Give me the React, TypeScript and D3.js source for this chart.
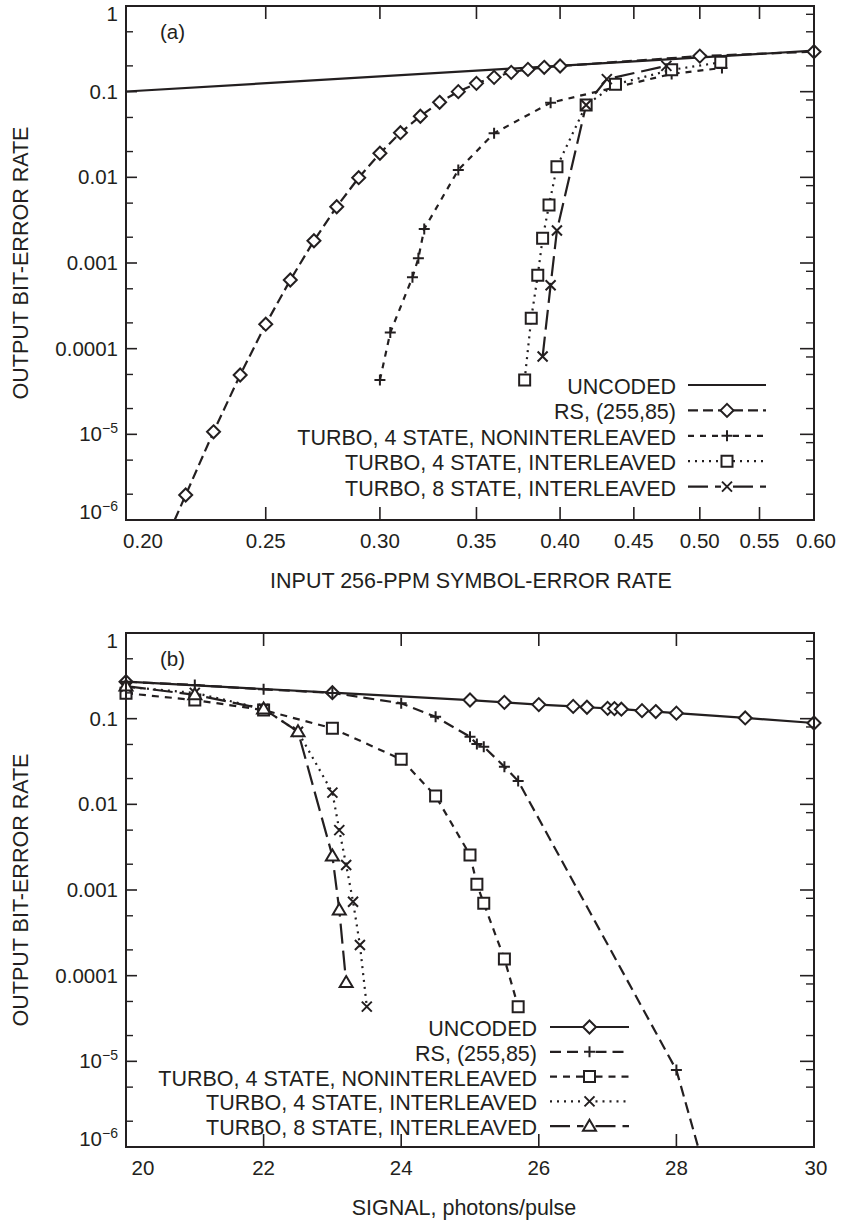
import React from 'react'
import * as d3 from 'd3'

const W = 841
const H = 1223
const INK = '#231f20'
const FONT = '"Liberation Sans", Arial, Helvetica, sans-serif'

// ---------- panel (a): input symbol-error rate ----------
const serTicks = [0.2, 0.25, 0.3, 0.35, 0.4, 0.45, 0.5, 0.55, 0.6]

const uncodedSerA = [0.2, 0.6]
const uncodedBerA = [0.1004, 0.3012]

const rsSerA = [0.21, 0.22, 0.23, 0.24, 0.25, 0.26, 0.27, 0.28, 0.29, 0.3, 0.31, 0.32, 0.33, 0.34, 0.35, 0.36, 0.37, 0.38, 0.39, 0.4, 0.5, 0.6]
const rsBerA = [3.3e-7, 1.96e-6, 1.07e-5, 4.93e-5, 1.93e-4, 6.33e-4, 1.82e-3, 4.54e-3, 9.9e-3, 0.0191, 0.0332, 0.0517, 0.0751, 0.1, 0.125, 0.147, 0.168, 0.182, 0.1925, 0.1995, 0.26, 0.293]

const t4nSerA = [0.3, 0.305, 0.316, 0.319, 0.322, 0.34, 0.36, 0.394, 0.478, 0.518]
const t4nBerA = [4.3e-5, 1.54e-4, 6.8e-4, 1.14e-3, 2.5e-3, 0.0122, 0.0327, 0.0743, 0.161, 0.189]

const t4iSerA = [0.378, 0.382, 0.386, 0.389, 0.393, 0.398, 0.417, 0.437, 0.478, 0.517]
const t4iBerA = [4.3e-5, 2.26e-4, 7.2e-4, 1.94e-3, 4.75e-3, 0.0133, 0.07, 0.122, 0.18, 0.22]

const t8iSerA = [0.389, 0.394, 0.398, 0.417, 0.431, 0.474]
const t8iBerA = [8.1e-5, 5.5e-4, 2.4e-3, 0.07, 0.14, 0.2]

// ---------- panel (b): signal, photons/pulse ----------
const signalTicks = [20, 22, 24, 26, 28, 30]

const uncodedSigB = [20, 23, 25, 25.5, 26, 26.5, 26.7, 27, 27.1, 27.2, 27.5, 27.7, 28, 29, 30]
const uncodedBerB = [0.27, 0.201, 0.165, 0.155, 0.146, 0.139, 0.136, 0.132, 0.131, 0.129, 0.124, 0.121, 0.116, 0.102, 0.089]

const rsSigB = [20, 21, 22, 23, 24, 24.5, 25, 25.1, 25.2, 25.5, 25.7, 28, 28.5]
const rsBerB = [0.27, 0.247, 0.22, 0.2, 0.151, 0.105, 0.0616, 0.0506, 0.0471, 0.0275, 0.0187, 7.9e-6, 3e-7]

const t4nSigB = [20, 21, 22, 23, 24, 24.5, 25, 25.1, 25.2, 25.5, 25.7]
const t4nBerB = [0.198, 0.165, 0.126, 0.0772, 0.0335, 0.0125, 2.56e-3, 1.17e-3, 7.0e-4, 1.57e-4, 4.35e-5]

const t4iSigB = [20, 21, 22, 22.5, 23, 23.1, 23.2, 23.3, 23.4, 23.5]
const t4iBerB = [0.235, 0.2, 0.13, 0.0705, 0.0137, 5.0e-3, 1.96e-3, 7.3e-4, 2.28e-4, 4.35e-5]

const t8iSigB = [20, 21, 22, 22.5, 23, 23.1, 23.2]
const t8iBerB = [0.24, 0.19, 0.13, 0.0705, 2.49e-3, 5.85e-4, 8.3e-5]

// y tick labels (shared)
const yTickBase = ['1', '0.1', '0.01', '0.001', '0.0001', '10', '10']
const yTickSup = ['', '', '', '', '', '\u22125', '\u22126']

const legendLabels = [
  'UNCODED',
  'RS, (255,85)',
  'TURBO, 4 STATE, NONINTERLEAVED',
  'TURBO, 4 STATE, INTERLEAVED',
  'TURBO, 8 STATE, INTERLEAVED',
]

const markerD: Record<string, string> = {
  diamond: 'M0,-6.5L6.5,0L0,6.5L-6.5,0Z',
  square: 'M-5.5,-5.5H5.5V5.5H-5.5Z',
  plus: 'M-5.5,0H5.5M0,-5.5V5.5',
  cross: 'M-5,-5L5,5M-5,5L5,-5',
  triangle: 'M0,-6.5L6.5,4.5H-6.5Z',
}

type Series = { xs: number[]; ys: number[]; dash: string | null; marker: string | null }

const seriesA: Series[] = [
  { xs: uncodedSerA, ys: uncodedBerA, dash: null, marker: null },
  { xs: rsSerA, ys: rsBerA, dash: '10,5', marker: 'diamond' },
  { xs: t4nSerA, ys: t4nBerA, dash: '6,6', marker: 'plus' },
  { xs: t4iSerA, ys: t4iBerA, dash: '2,5', marker: 'square' },
  { xs: t8iSerA, ys: t8iBerA, dash: '20,7', marker: 'cross' },
]

const seriesB: Series[] = [
  { xs: uncodedSigB, ys: uncodedBerB, dash: null, marker: 'diamond' },
  { xs: rsSigB, ys: rsBerB, dash: '11,6', marker: 'plus' },
  { xs: t4nSigB, ys: t4nBerB, dash: '7,6', marker: 'square' },
  { xs: t4iSigB, ys: t4iBerB, dash: '2,5', marker: 'cross' },
  { xs: t8iSigB, ys: t8iBerB, dash: '20,7', marker: 'triangle' },
]

const LEFT = 126
const RIGHT = 814

function Marker({ kind, x, y }: { kind: string; x: number; y: number }) {
  const open = kind === 'plus' || kind === 'cross'
  return (
    <path d={markerD[kind]} transform={`translate(${x},${y})`}
      fill={open ? 'none' : '#fff'} stroke={INK} strokeWidth={2} />
  )
}

function Panel(props: any) {
  const { id, top, x, xTicks, xFmt, xTitle, xTitleX, series, tag, legend } = props
  const bottom = top + 514
  const y = d3.scaleLog().domain([1e-6, 1]).range([bottom, top])
  const decades = d3.range(0, 7).map(i => Math.pow(10, -i))
  const minorL: number[] = []
  const minorR: number[] = []
  decades.slice(0, 6).forEach(d => {
    minorL.push(d * 0.5, d * 0.2)
    minorR.push(d * 0.8, d * 0.5, d * 0.2)
  })

  return (
    <g>
      <defs>
        <clipPath id={`clip-${id}`}>
          <rect x={LEFT} y={top} width={RIGHT - LEFT} height={bottom - top} />
        </clipPath>
      </defs>

      {/* curves */}
      <g clipPath={`url(#clip-${id})`}>
        {series.map((s: Series, i: number) => {
          const pts = s.xs.map((v, k) => [x(v), y(s.ys[k])] as [number, number])
          return (
            <path key={i} d={d3.line()(pts) || ''} fill="none" stroke={INK}
              strokeWidth={2.2} strokeDasharray={s.dash || undefined} />
          )
        })}
      </g>
      {series.map((s: Series, i: number) => s.marker ? (
        <g key={i}>
          {s.xs.map((v, k) => s.ys[k] >= 1e-6 ? (
            <Marker key={k} kind={s.marker as string} x={x(v)} y={y(s.ys[k])} />
          ) : null)}
        </g>
      ) : null)}

      {/* frame */}
      <rect x={LEFT} y={top} width={RIGHT - LEFT} height={bottom - top} fill="none" stroke={INK} strokeWidth={2} />

      {/* x ticks */}
      {xTicks.map((t: number, i: number) => {
        const px = x(t)
        const inner = i > 0 && i < xTicks.length - 1
        return (
          <g key={i}>
            {inner && <line x1={px} x2={px} y1={bottom} y2={bottom - 13} stroke={INK} strokeWidth={1.6} />}
            {inner && <line x1={px} x2={px} y1={top} y2={top + 13} stroke={INK} strokeWidth={1.6} />}
            <text x={i === 0 ? px + 17 : px + (i === xTicks.length - 1 ? 2 : 0)} y={bottom + 28}
              textAnchor="middle" fontSize={20.5} fill={INK}>{xFmt(t)}</text>
          </g>
        )
      })}

      {/* y ticks */}
      {decades.map((d, i) => {
        const py = y(d)
        const inner = i > 0 && i < decades.length - 1
        let shift = 7
        if (i === 0) shift = 14.5
        if (i === decades.length - 1) shift = -1
        return (
          <g key={i}>
            {inner && <line x1={LEFT} x2={LEFT + 11} y1={py} y2={py} stroke={INK} strokeWidth={1.6} />}
            {inner && <line x1={RIGHT} x2={RIGHT - 14} y1={py} y2={py} stroke={INK} strokeWidth={1.6} />}
            <text x={118} y={py + shift} textAnchor="end" fontSize={20.5} fill={INK}>
              {yTickBase[i]}
              {yTickSup[i] && <tspan fontSize={14} dy={-8}>{yTickSup[i]}</tspan>}
            </text>
          </g>
        )
      })}
      {minorL.map((v, i) => (
        <line key={'l' + i} x1={LEFT} x2={LEFT + 7} y1={y(v)} y2={y(v)} stroke={INK} strokeWidth={1.4} />
      ))}
      {minorR.map((v, i) => (
        <line key={'r' + i} x1={RIGHT} x2={RIGHT - 8} y1={y(v)} y2={y(v)} stroke={INK} strokeWidth={1.4} />
      ))}

      {/* axis titles */}
      <text x={xTitleX} y={bottom + 68} textAnchor="middle" fontSize={21.5} fill={INK}>{xTitle}</text>
      <text transform={`translate(28,${(top + bottom) / 2}) rotate(-90)`} textAnchor="middle"
        fontSize={21.5} fill={INK}>OUTPUT BIT-ERROR RATE</text>

      <text x={160} y={top + 33} fontSize={20.5} fill={INK}>{tag}</text>

      {/* legend */}
      {series.map((s: Series, i: number) => {
        const by = legend.y0 + i * legend.step
        const ly = by - 9
        const x0 = legend.sx0
        const x1 = legend.sx1
        const mid = (x0 + x1) / 2
        return (
          <g key={i}>
            <text x={legend.tx} y={by} textAnchor="end" fontSize={21.5} fill={INK}>{legendLabels[i]}</text>
            {s.marker ? (
              <g>
                <line x1={x0} x2={mid - 6} y1={ly} y2={ly} stroke={INK} strokeWidth={2.2} strokeDasharray={s.dash || undefined} />
                <line x1={mid + 6} x2={x1} y1={ly} y2={ly} stroke={INK} strokeWidth={2.2} strokeDasharray={s.dash || undefined} />
                <Marker kind={s.marker} x={mid} y={ly} />
              </g>
            ) : (
              <line x1={x0} x2={x1} y1={ly} y2={ly} stroke={INK} strokeWidth={2.2} />
            )}
          </g>
        )
      })}
    </g>
  )
}

const xA = d3.scaleLog().domain([0.2, 0.6]).range([LEFT, RIGHT])
const xB = d3.scaleLinear().domain([20, 30]).range([LEFT, RIGHT])

export default function App() {
  return (
    <div style={{ position: 'absolute', left: 0, top: 0 }}>
      <svg width={W} height={H} style={{ display: 'block', background: '#fff' }} fontFamily={FONT}>
        <Panel id="a" top={6} x={xA} xTicks={serTicks} xFmt={d3.format('.2f')}
          xTitle="INPUT 256-PPM SYMBOL-ERROR RATE" xTitleX={471} series={seriesA} tag="(a)"
          legend={{ tx: 676, y0: 394, step: 25.4, sx0: 688, sx1: 766 }} />
        <Panel id="b" top={633} x={xB} xTicks={signalTicks} xFmt={d3.format('d')}
          xTitle="SIGNAL, photons/pulse" xTitleX={464} series={seriesB} tag="(b)"
          legend={{ tx: 537, y0: 1036, step: 24.8, sx0: 550, sx1: 629 }} />
      </svg>
    </div>
  )
}
